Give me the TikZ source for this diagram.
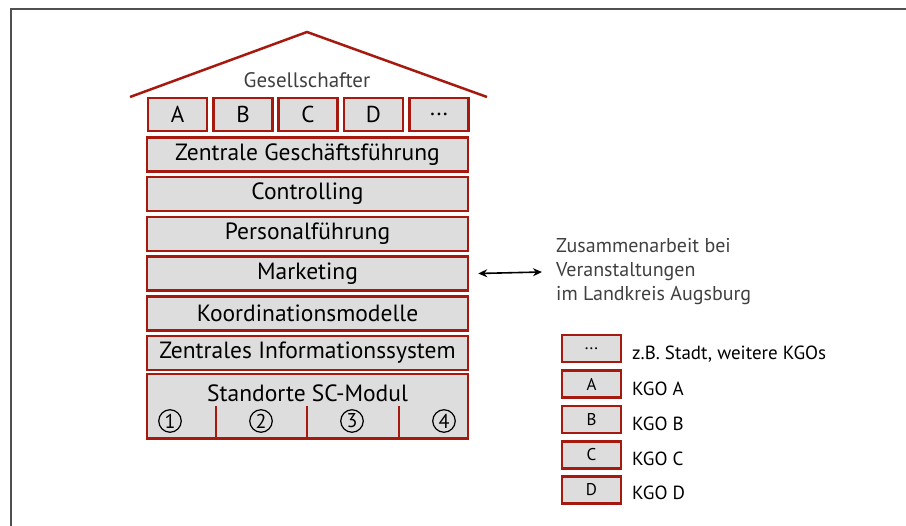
\documentclass[tikz,border=0pt]{standalone}
\usepackage{fontspec}
\setmainfont{PT Sans}
\usetikzlibrary{arrows.meta}
\definecolor{kred}{RGB}{165,25,15}
\definecolor{kfill}{RGB}{221,221,221}
\definecolor{ktext}{RGB}{64,64,64}
\definecolor{kframe}{RGB}{80,80,80}
\tikzset{
  layer/.style={draw=kred, line width=2.5pt, fill=kfill, minimum width=321pt,
    minimum height=34pt, inner sep=0pt, font=\fontsize{23.5}{26}\selectfont},
  partner/.style={draw=kred, line width=2.5pt, fill=kfill, minimum width=59pt,
    minimum height=33pt, inner sep=0pt, font=\fontsize{23}{26}\selectfont},
  legendbox/.style={draw=kred, line width=2.5pt, fill=kfill, minimum width=59pt,
    minimum height=27pt, inner sep=0pt, font=\fontsize{17}{20}\selectfont},
  legendtext/.style={anchor=west, inner sep=0pt, font=\fontsize{19}{22}\selectfont},
  sitenum/.style={circle, draw=black, line width=1.2pt, minimum size=22.5pt,
    inner sep=0pt, font=\fontsize{20}{21}\selectfont},
  divider/.style={draw=kred, line width=2.5pt},
}
\begin{document}
\begin{tikzpicture}[x=1pt, y=-1pt]
\useasboundingbox (0,0) rectangle (906,526);
% outer frame (top and left edges)
\draw[kframe, line width=2pt] (11,526) |- (906,9);
% roof
\draw[kred, line width=2.5pt, line join=miter] (130,97) -- (307,32) -- (487,97);
\node[text=ktext, font=\fontsize{21}{24}\selectfont] (owners) at (307,80) {Gesellschafter};
% partners
\node[partner] (pA) at (177.5,114.5) {A};
\node[partner] (pB) at (243,114.5) {B};
\node[partner] (pC) at (308,114.5) {C};
\node[partner] (pD) at (373.5,114.5) {D};
\node[partner] (pE) at (439,114.5) {...};
% layers
\node[layer] (l1) at (307.5,154.5) {Zentrale Geschäftsführung};
\node[layer] (l2) at (307.5,194) {Controlling};
\node[layer] (l3) at (307.5,234) {Personalführung};
\node[layer] (l4) at (307.5,273.5) {Marketing};
\node[layer] (l5) at (307.5,313.5) {Koordinationsmodelle};
\node[layer] (l6) at (307.5,353) {Zentrales Informationssystem};
% sites module
\node[layer, minimum height=64.5pt] (sites) at (307.5,406.5) {};
\node[font=\fontsize{23.5}{26}\selectfont] (sitestitle) at (307.5,393) {Standorte SC-Modul};
\draw[divider] (216,406) -- (216,439);
\draw[divider] (307,406) -- (307,439);
\draw[divider] (399,406) -- (399,439);
\node[sitenum] (s1) at (170,421) {1};
\node[sitenum] (s2) at (261,421) {2};
\node[sitenum] (s3) at (352,421) {3};
\node[sitenum] (s4) at (444,421) {4};
% cooperation note
\node[anchor=west, text=ktext, align=left, inner sep=0pt,
  font=\fontsize{20}{24}\selectfont] (coop) at (556,272)
  {Zusammenarbeit bei\\Veranstaltungen\\im Landkreis Augsburg};
\draw[{Stealth[length=9pt,width=8pt]}-{Stealth[length=9pt,width=8pt]}, line width=1.6pt]
  ([xshift=9pt]l4.east) -- ([xshift=-14pt]coop.west);
% legend
\node[legendbox] (kE) at (591.5,348.5) {...};
\node[legendbox] (kA) at (591.5,384) {A};
\node[legendbox] (kB) at (591.5,419.5) {B};
\node[legendbox] (kC) at (591.5,455) {C};
\node[legendbox] (kD) at (591.5,490) {D};
\node[legendtext] (tE) at (632,354) {z.B. Stadt, weitere KGOs};
\node[legendtext] (tA) at (632,389) {KGO A};
\node[legendtext] (tB) at (632,424) {KGO B};
\node[legendtext] (tC) at (632,459) {KGO C};
\node[legendtext] (tD) at (632,493) {KGO D};
\end{tikzpicture}
\end{document}
